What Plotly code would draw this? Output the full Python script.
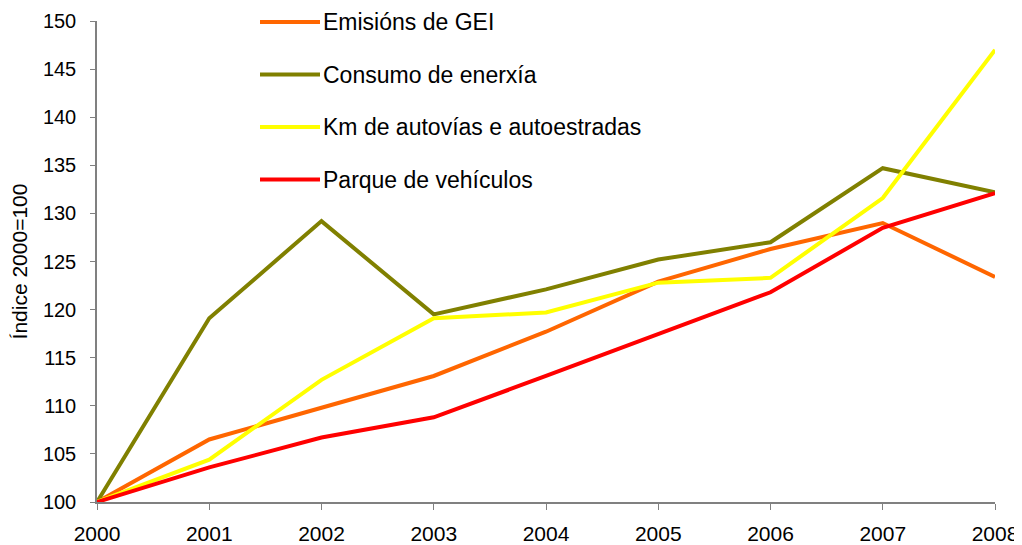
import plotly.graph_objects as go

years = [2000, 2001, 2002, 2003, 2004, 2005, 2006, 2007, 2008]
emisions = [100, 106.5, 109.8, 113.1, 117.7, 122.9, 126.3, 129.0, 123.4]
consumo = [100, 119.1, 129.2, 119.5, 122.1, 125.2, 127.0, 134.7, 132.2]
km_autovias = [100, 104.4, 112.7, 119.1, 119.7, 122.8, 123.3, 131.6, 147.0]
parque = [100, 103.6, 106.7, 108.8, 113.1, 117.5, 121.8, 128.5, 132.1]

series = [
    ("Emisións de GEI", emisions, "#FF6600"),
    ("Consumo de enerxía", consumo, "#808000"),
    ("Km de autovías e autoestradas", km_autovias, "#FFFF00"),
    ("Parque de vehículos", parque, "#FF0000"),
]

fam = "Liberation Sans, Arial, sans-serif"
# the page places the figure 8px from the window's top-left corner
OFF = 8
W, H = 1022 - OFF, 545 - OFF
ML, MR, MT, MB = 97 - OFF, 27, 21 - OFF, 43
PW, PH = W - ML - MR, H - MT - MB


def px_x(p):  # window pixel -> paper x
    return (p - OFF - ML) / PW


def px_y(p):  # window pixel -> paper y
    return (H - MB - (p - OFF)) / PH


fig = go.Figure()
for name, vals, col in series:
    fig.add_trace(go.Scatter(x=years, y=vals, mode="lines", name=name,
                             line=dict(color=col, width=4), showlegend=False))

# legend drawn inside the plot area, as in the reference
leg_rows = [22, 74.5, 127, 179.5]
for (name, vals, col), ry in zip(series, leg_rows):
    fig.add_shape(type="line", xref="paper", yref="paper",
                  x0=px_x(260), x1=px_x(320), y0=px_y(ry), y1=px_y(ry),
                  line=dict(color=col, width=4))
    fig.add_annotation(xref="paper", yref="paper", x=px_x(321), y=px_y(ry),
                       xanchor="left", yanchor="middle", showarrow=False,
                       text=name, font=dict(family=fam, size=23, color="black"))

fig.update_layout(
    width=W, height=H,
    margin=dict(l=ML, r=MR, t=MT, b=MB),
    plot_bgcolor="white", paper_bgcolor="white",
    font=dict(family=fam, size=20, color="black"),
    showlegend=False,
    xaxis=dict(range=[2000, 2008], tickmode="array", tickvals=years,
               ticktext=[str(y) for y in years], showgrid=False,
               showline=True, linecolor="#808080", linewidth=1.5,
               ticks="outside", ticklen=6, tickcolor="#808080", zeroline=False,
               tickfont=dict(family=fam, size=21), ticklabelstandoff=6,
               automargin=False),
    yaxis=dict(range=[100, 150], dtick=5, showgrid=False,
               showline=True, linecolor="#808080", linewidth=1.5,
               ticks="outside", ticklen=5, tickcolor="#808080", zeroline=False,
               tickfont=dict(family=fam, size=20), ticklabelstandoff=10,
               automargin=False,
               title=dict(text="Índice 2000=100", standoff=10,
                          font=dict(family=fam, size=21))),
)
fig.write_html("out.html")
